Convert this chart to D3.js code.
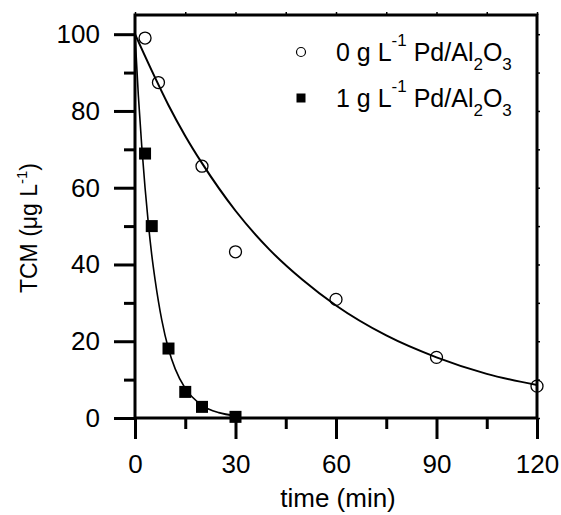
<!DOCTYPE html>
<html>
<head>
<meta charset="utf-8">
<script src="https://cdn.jsdelivr.net/npm/d3@7"></script>
<style>
  html, body { margin: 0; padding: 0; background: #fff; }
  svg { display: block; }
  text { font-family: "Liberation Sans", Arial, sans-serif; fill: #000; }
</style>
</head>
<body>
<svg id="chart" width="561" height="515"></svg>
<script>
// ---- data ----
const time0 = [3, 7, 20, 30, 60, 90, 120];
const tcm0 = [99, 87.4, 65.6, 43.3, 30.9, 15.8, 8.3];
const time1 = [3, 5, 10, 15, 20, 30];
const tcm1 = [68.9, 50, 18.1, 6.8, 2.9, 0.3];
// fitted curves, points
const fitTime0 = [0, 5, 10, 15, 20, 30, 40, 50, 60, 75, 90, 105, 120];
const fitTcm0 = [100, 90.5, 81.5, 73.5, 66.4, 54, 44, 36, 29.3, 21.5, 15.8, 11.5, 8.6];
const fitTime1 = [0, 1, 2, 3, 4, 5, 6, 8, 10, 12, 15, 20, 25, 30];
const fitTcm1 = [100, 84, 71, 60, 50.5, 42.5, 36, 25.5, 18, 12.8, 7.7, 3.3, 1.4, 0.6];
const xMajor = [0, 30, 60, 90, 120];
const xMinor = [15, 45, 75, 105];
const yMajor = [0, 20, 40, 60, 80, 100];
const yMinor = [10, 30, 50, 70, 90];
const legendLabels = ["0", "1"];

// ---- layout ----
const L = 135, R = 537, T = 15, B = 418;
const FONT = "'Liberation Sans', Arial, sans-serif";
const svg = d3.select("#chart");
const x = d3.scaleLinear().domain([0, 120]).range([L, R]);
const y = d3.scaleLinear().domain([0, 105]).range([B, T]);

// curves
const line = d3.line().x(d => x(d[0])).y(d => y(d[1])).curve(d3.curveMonotoneX);
svg.append("path").datum(d3.zip(fitTime0, fitTcm0)).attr("d", line)
  .attr("fill", "none").attr("stroke", "#000").attr("stroke-width", 2);
svg.append("path").datum(d3.zip(fitTime1, fitTcm1)).attr("d", line)
  .attr("fill", "none").attr("stroke", "#000").attr("stroke-width", 1.6);

// markers
svg.append("g").selectAll("circle").data(d3.zip(time0, tcm0)).join("circle")
  .attr("cx", d => x(d[0])).attr("cy", d => y(d[1])).attr("r", 6)
  .attr("fill", "none").attr("stroke", "#000").attr("stroke-width", 1.3);
const sq = 12;
svg.append("g").selectAll("rect").data(d3.zip(time1, tcm1)).join("rect")
  .attr("x", d => x(d[0]) - sq / 2).attr("y", d => y(d[1]) - sq / 2)
  .attr("width", sq).attr("height", sq).attr("fill", "#000");

// axes
function styleAxis(g, w) {
  g.select(".domain").remove();
  g.selectAll(".tick line").attr("stroke", "#000").attr("stroke-width", w);
}
// left
const gl = svg.append("g").attr("transform", `translate(${L},0)`);
gl.append("g").call(d3.axisLeft(y).tickValues(yMajor).tickSize(21).tickPadding(14).tickFormat(d3.format("d")))
  .call(g => styleAxis(g, 3))
  .call(g => g.selectAll("text").attr("font-size", 26).style("font-family", FONT));
gl.append("g").call(d3.axisLeft(y).tickValues(yMinor).tickSize(11).tickFormat(""))
  .call(g => styleAxis(g, 3));
// bottom
const gb = svg.append("g").attr("transform", `translate(0,${B})`);
gb.append("g").call(d3.axisBottom(x).tickValues(xMajor).tickSize(21).tickPadding(16).tickFormat(d3.format("d")))
  .call(g => styleAxis(g, 3))
  .call(g => g.selectAll("text").attr("font-size", 26).style("font-family", FONT));
gb.append("g").call(d3.axisBottom(x).tickValues(xMinor).tickSize(11).tickFormat(""))
  .call(g => styleAxis(g, 3));
// top (small outward ticks)
svg.append("g").attr("transform", `translate(0,${T})`)
  .call(d3.axisTop(x).tickValues(xMajor.concat(xMinor)).tickSize(3).tickFormat(""))
  .call(g => styleAxis(g, 1.5));
// right (small outward ticks)
svg.append("g").attr("transform", `translate(${R},0)`)
  .call(d3.axisRight(y).tickValues(yMajor.concat(yMinor)).tickSize(3).tickFormat(""))
  .call(g => styleAxis(g, 1.5));

// frame
svg.append("rect").attr("x", L).attr("y", T).attr("width", R - L).attr("height", B - T)
  .attr("fill", "none").attr("stroke", "#000").attr("stroke-width", 3);

// axis titles
svg.append("text").attr("x", (L + R) / 2 + 2).attr("y", 507).attr("text-anchor", "middle")
  .attr("font-size", 26).text("time (min)");
const yt = svg.append("text").attr("transform", `translate(37,228) rotate(-90)`)
  .attr("text-anchor", "middle").attr("font-size", 23);
yt.append("tspan").text("TCM (μg L");
yt.append("tspan").attr("font-size", 15).attr("dy", -10).text("-1");
yt.append("tspan").attr("dy", 10).text(")");

// legend
const legY = [52, 98];
const lg = svg.append("g");
legendLabels.forEach((lab, i) => {
  const cy = legY[i];
  if (i === 0) {
    lg.append("circle").attr("cx", 301).attr("cy", cy).attr("r", 4.5)
      .attr("fill", "none").attr("stroke", "#000").attr("stroke-width", 1.2);
  } else {
    lg.append("rect").attr("x", 301 - 4.5).attr("y", cy - 4.5).attr("width", 9).attr("height", 9).attr("fill", "#000");
  }
  const t = lg.append("text").attr("x", 336).attr("y", cy + 8.5).attr("font-size", 25);
  t.append("tspan").text(lab + " g L");
  t.append("tspan").attr("font-size", 17).attr("dy", -15).text("-1");
  t.append("tspan").attr("dy", 15).text(" Pd/Al");
  t.append("tspan").attr("font-size", 17).attr("dy", 9).text("2");
  t.append("tspan").attr("dy", -9).text("O");
  t.append("tspan").attr("font-size", 17).attr("dy", 9).text("3");
});
</script>
</body>
</html>
